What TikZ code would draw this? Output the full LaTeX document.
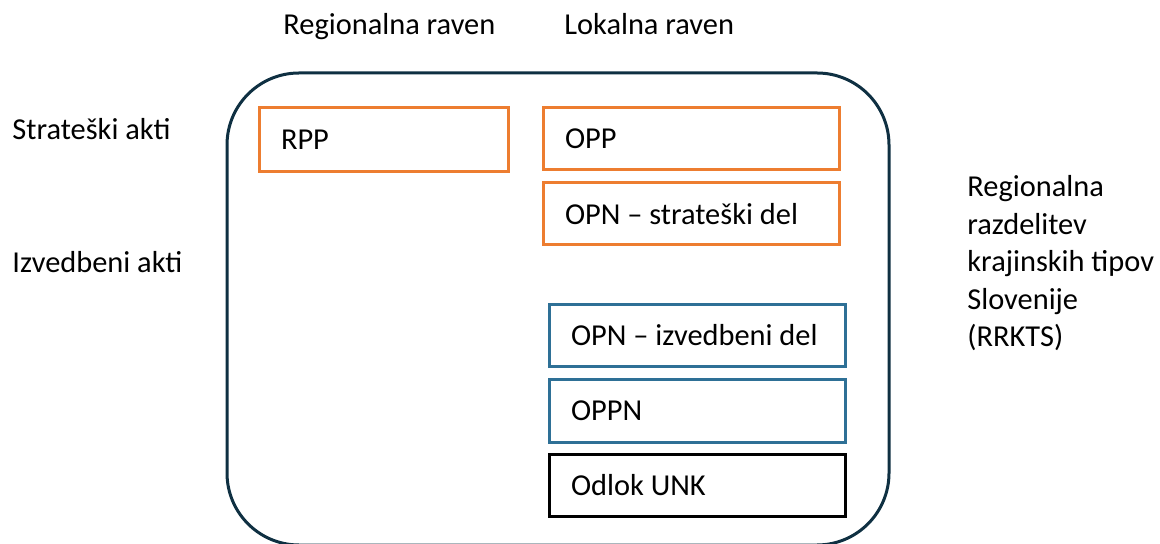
\documentclass[tikz,border=0pt]{standalone}
\usepackage{fontspec}
\setmainfont{Carlito}
\usepackage{tikz}
\definecolor{oranz}{rgb}{0.93,0.49,0.19}
\definecolor{modra}{rgb}{0.18,0.44,0.59}
\definecolor{temna}{rgb}{0.06,0.19,0.26}

\begin{document}
\begin{tikzpicture}[x=0.5pt,y=-0.5pt,
  akt/.style={draw, line width=1.5pt, inner xsep=11pt, inner ysep=0pt, minimum height=31pt, text width=126pt, align=flush left, text=black, font=\fontsize{15.2}{18}\selectfont},
  napis/.style={inner sep=0pt, anchor=base west, align=left, font=\fontsize{15.2}{18.75}\selectfont}]
\useasboundingbox (0,0) rectangle (1160,544);
\draw[color=temna, line width=1.5pt, rounded corners=36pt] (227,73) rectangle (889,545);
\node[napis] (regraven) at (283,35) {Regionalna raven};
\node[napis] (lokraven) at (564,35) {Lokalna raven};
\node[napis] (strat) at (12,140) {Strateški akti};
\node[napis] (izved) at (12,273) {Izvedbeni akti};
\node[napis] (rrkts) at (967,347) {Regionalna\\razdelitev\\krajinskih tipov\\Slovenije\\(RRKTS)};
\node[akt, draw=oranz, text width=102.5pt, minimum height=32pt] (rpp) at (383.5,140) {RPP};
\node[akt, draw=oranz] (opp) at (691,138.5) {OPP};
\node[akt, draw=oranz] (opns) at (691,214) {\mbox{OPN -- strateški del}};
\node[akt, draw=modra] (opni) at (697,335.5) {\mbox{OPN -- izvedbeni del}};
\node[akt, draw=modra] (oppn) at (697,411) {OPPN};
\node[akt, draw=black] (odlok) at (697,485) {Odlok UNK};
\end{tikzpicture}
\end{document}
